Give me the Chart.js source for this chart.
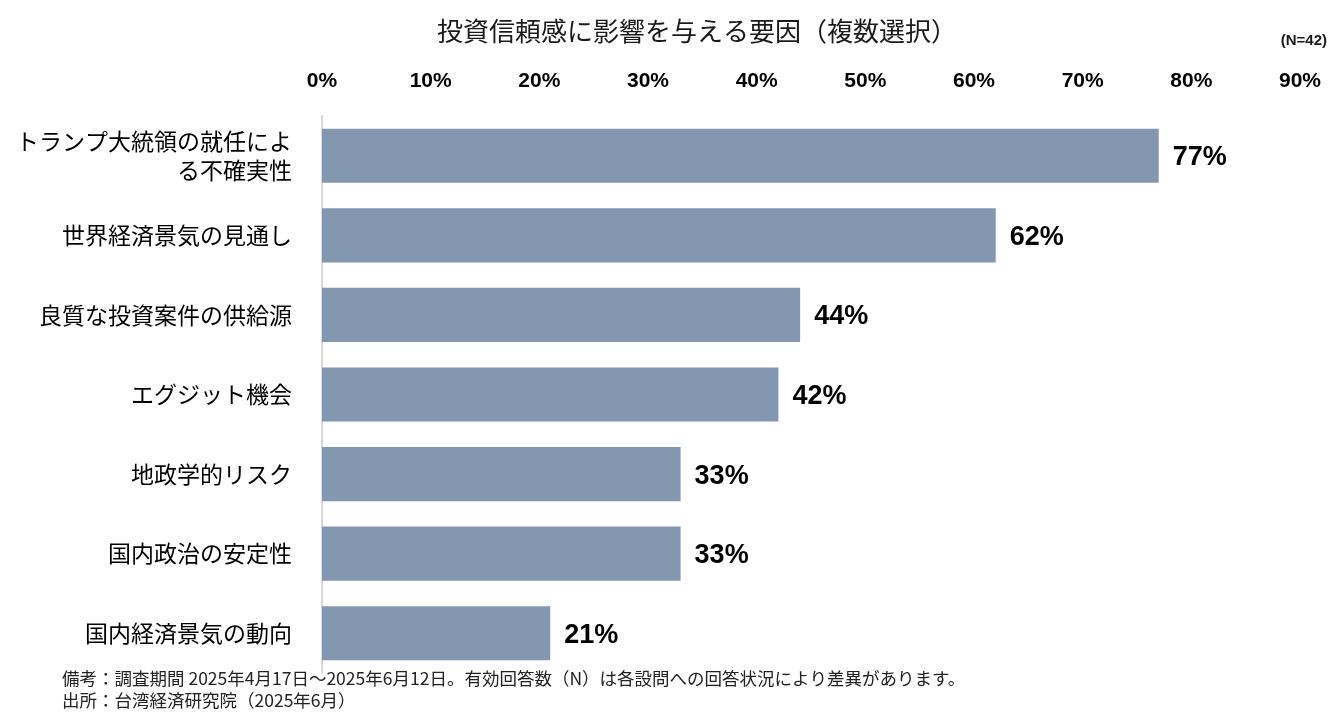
<!DOCTYPE html>
<html>
<head>
<meta charset="utf-8">
<script src="https://cdn.jsdelivr.net/npm/chart.js@4.4.1/dist/chart.umd.min.js"></script>
<style>
  html, body { margin: 0; padding: 0; background: #fff; }
  #wrap { width: 1343px; height: 715px; }
</style>
</head>
<body>
<div id="wrap"><canvas id="factorChart" width="1343" height="715"></canvas></div>
<script>
// 投資信頼感に影響を与える要因（複数選択）
const categories = [
  ['トランプ大統領の就任によ', 'る不確実性'],
  '世界経済景気の見通し',
  '良質な投資案件の供給源',
  'エグジット機会',
  '地政学的リスク',
  '国内政治の安定性',
  '国内経済景気の動向'
];
const shares = [77, 62, 44, 42, 33, 33, 21];
const tickMax = 90;
const tickStep = 10;

const titleText = '投資信頼感に影響を与える要因（複数選択）';
const sampleText = '(N=42)';
const noteLines = [
  '備考：調査期間 2025年4月17日～2025年6月12日。有効回答数（N）は各設問への回答状況により差異があります。',
  '出所：台湾経済研究院（2025年6月）'
];

const jpFont = '"Noto Sans CJK JP", "Noto Sans", sans-serif';
const numFont = '"Liberation Sans", Arial, sans-serif';

// タイトル・注記・数値ラベル
const extraText = {
  id: 'extraText',
  afterDatasetsDraw(chart) {
    const c = chart.ctx;
    c.save();
    c.fillStyle = '#000';
    c.textBaseline = 'middle';
    c.textAlign = 'left';
    c.font = 'bold 27px ' + numFont;
    const meta = chart.getDatasetMeta(0);
    meta.data.forEach((bar, i) => {
      c.fillText(shares[i] + '%', bar.x + 14, bar.y + 2);
    });

    c.fillStyle = '#1a1a1a';
    c.textAlign = 'center';
    c.font = '26px ' + jpFont;
    c.fillText(titleText, 697, 31);

    c.textAlign = 'right';
    c.font = 'bold 15px ' + numFont;
    c.fillText(sampleText, 1327, 41);

    c.textAlign = 'left';
    c.font = '17.5px ' + jpFont;
    c.fillStyle = '#222';
    c.fillText(noteLines[0], 62, 678);
    c.fillText(noteLines[1], 62, 700);
    c.restore();
  }
};

new Chart(document.getElementById('factorChart'), {
  type: 'bar',
  data: {
    labels: categories,
    datasets: [{
      data: shares,
      backgroundColor: '#8497b0',
      borderWidth: 0,
      barPercentage: 0.68,
      categoryPercentage: 1.0
    }]
  },
  options: {
    indexAxis: 'y',
    responsive: false,
    animation: false,
    layout: { padding: { top: 0, right: 36, bottom: 42, left: 0 } },
    plugins: {
      legend: { display: false },
      tooltip: { enabled: false },
      title: { display: false }
    },
    scales: {
      x: {
        position: 'top',
        min: 0,
        max: tickMax,
        grid: { display: false, drawTicks: false },
        border: { display: false },
        ticks: {
          stepSize: tickStep,
          padding: 22,
          color: '#000',
          font: { family: numFont, size: 21, weight: 'bold' },
          callback: v => v + '%'
        },
        afterFit: scale => { scale.height = 116; }
      },
      y: {
        grid: { display: false, drawTicks: false },
        border: { display: true, color: '#d9d9d9', width: 2 },
        ticks: {
          padding: 30,
          color: '#000',
          font: { family: jpFont, size: 23, lineHeight: 1.3 }
        },
        afterFit: scale => {
          scale.width = 322;
          scale.paddingTop = 0;
          scale.paddingBottom = 0;
        }
      }
    }
  },
  plugins: [extraText]
});
</script>
</body>
</html>
